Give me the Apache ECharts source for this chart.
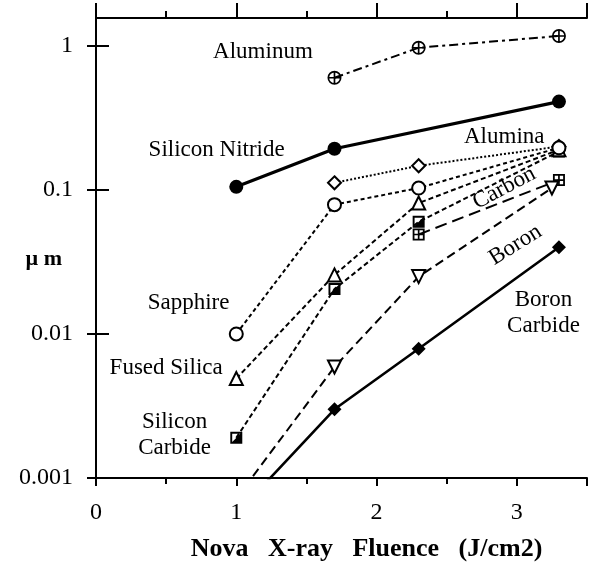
<!DOCTYPE html>
<html>
<head>
<meta charset="utf-8">
<script src="https://cdn.jsdelivr.net/npm/echarts@6/dist/echarts.min.js"></script>
<style>
html,body{margin:0;padding:0;background:#fff;}
#chart{width:604px;height:563px;}
</style>
</head>
<body>
<div id="chart"></div>
<script>
// ---- data: [fluence (J/cm2), thickness removed (um)] ----
const aluminum      = [[1.7, 0.60], [2.3, 0.97], [3.3, 1.17]];
const siliconNitride= [[1.0, 0.105], [1.7, 0.193], [3.3, 0.41]];
const alumina       = [[1.7, 0.112], [2.3, 0.147], [3.3, 0.20]];
const sapphire      = [[1.0, 0.010], [1.7, 0.079], [2.3, 0.103], [3.3, 0.196]];
const fusedSilica   = [[1.0, 0.0049], [1.7, 0.0257], [2.3, 0.081], [3.3, 0.19]];
const siliconCarbide= [[1.0, 0.0019], [1.7, 0.0205], [2.3, 0.060], [3.3, 0.185]];
const carbon        = [[2.3, 0.049], [3.3, 0.117]];
const boron         = [[1.0, 0.00072], [1.7, 0.0059], [2.3, 0.025], [3.25, 0.103]];
const boronCarbide  = [[1.0, 0.00056], [1.7, 0.0030], [2.3, 0.0079], [3.3, 0.040]];

const xTicks = [0, 1, 2, 3];
const yTicks = [0.001, 0.01, 0.1, 1];

// text annotations: [label, x, y, rotation]
const annotations = [
  ['Aluminum', 1.19, 0.91, 0],
  ['Silicon Nitride', 0.86, 0.19, 0],
  ['Alumina', 2.91, 0.233, 0],
  ['Carbon', 2.91, 0.103, 28],
  ['Boron', 2.99, 0.0415, 32],
  ['Boron\nCarbide', 3.19, 0.014, 0],
  ['Sapphire', 0.66, 0.0164, 0],
  ['Fused Silica', 0.50, 0.0058, 0],
  ['Silicon\nCarbide', 0.56, 0.0020, 0]
];

const FONT = 'Liberation Serif';
const SYM_OPLUS = 'path://M0,-10A10,10,0,1,1,0,10A10,10,0,1,1,0,-10Z M0,-7.6A7.6,7.6,0,1,0,0,7.6A7.6,7.6,0,1,0,0,-7.6Z M-7.6,-1.2L7.6,-1.2L7.6,1.2L-7.6,1.2Z M-1.2,-7.6L1.2,-7.6L1.2,7.6L-1.2,7.6Z';
const SYM_HALFSQ = 'path://M0,0L10,0L10,10L0,10Z M1.6,1.6L1.6,8.4L8.4,8.4L8.4,1.6Z M8.4,1.6L8.4,8.4L1.6,8.4Z';
const SYM_GRIDSQ = 'path://M0,0L10,0L10,10L0,10Z M1.5,1.5L1.5,8.5L8.5,8.5L8.5,1.5Z M4.3,1.5L5.7,1.5L5.7,8.5L4.3,8.5Z M1.5,4.3L8.5,4.3L8.5,5.7L1.5,5.7Z';

const openStyle = {color: '#fff', borderColor: '#000', borderWidth: 2};
const filledStyle = {color: '#000', borderWidth: 0};

function lineSeries(name, data, symbol, size, item, width, dash, extra) {
  return Object.assign({
    name: name, type: 'line', data: data, symbol: symbol, symbolSize: size,
    itemStyle: item,
    lineStyle: {color: '#000', width: width, type: dash},
    clip: true, z: 3
  }, extra || {});
}

const series = [
  lineSeries('Aluminum', aluminum, SYM_OPLUS, 14, filledStyle, 2, [9, 4, 3, 4]),
  lineSeries('Silicon Nitride', siliconNitride, 'circle', 14, filledStyle, 3.2, 'solid'),
  lineSeries('Alumina', alumina, 'diamond', 13, openStyle, 2, [2, 2]),
  lineSeries('Silicon Carbide', siliconCarbide, SYM_HALFSQ, 12, filledStyle, 2, [5, 3]),
  lineSeries('Carbon', carbon, SYM_GRIDSQ, 12, filledStyle, 2, [12, 6]),
  lineSeries('Fused Silica', fusedSilica, 'triangle', 13, openStyle, 2, [5, 3]),
  lineSeries('Sapphire', sapphire, 'circle', 13, openStyle, 2, [4, 3]),
  lineSeries('Boron', boron, 'triangle', 13, openStyle, 2, [9, 5], {symbolRotate: 180}),
  lineSeries('Boron Carbide', boronCarbide, 'diamond', 14, filledStyle, 2.6, 'solid'),
  {
    type: 'scatter', symbolSize: 0, z: 5, silent: true,
    itemStyle: {opacity: 1},
    data: annotations.map(a => ({name: a[0], value: [a[1], a[2]], label: {rotate: a[3]}})),
    label: {
      show: true, position: 'inside', formatter: p => p.name,
      fontFamily: FONT, fontSize: 23, color: '#000', opacity: 1, lineHeight: 26, align: 'center',
      textBorderWidth: 0, textShadowBlur: 0
    }
  }
];

const isPow10 = v => Math.abs(Math.log10(v) - Math.round(Math.log10(v))) < 1e-6;

const axisLine = {show: true, lineStyle: {color: '#000', width: 2}};

const option = {
  animation: false,
  backgroundColor: '#fff',
  grid: {left: 96, right: 17, top: 18, bottom: 85, containLabel: false, outerBoundsMode: 'none'},
  xAxis: [
    {
      type: 'value', position: 'bottom', min: 0, max: 3.5, interval: 1,
      axisLine: axisLine,
      axisTick: {show: true, length: 8, lineStyle: {width: 2, color: '#000'}},
      minorTick: {show: true, splitNumber: 2, length: 6, lineStyle: {width: 2, color: '#000'}},
      splitLine: {show: false},
      axisLabel: {
        margin: 23, fontFamily: FONT, fontSize: 24, color: '#000',
        formatter: v => (xTicks.indexOf(v) >= 0 ? String(v) : '')
      },
      name: 'Nova   X-ray   Fluence   (J/cm2)', nameLocation: 'middle', nameGap: 58,
      nameMoveOverlap: false,
      nameTextStyle: {fontFamily: FONT, fontSize: 26, fontWeight: 'bold', color: '#000', padding: [0, 0, 0, 50]}
    },
    {
      type: 'value', position: 'top', min: 0, max: 3.5, interval: 1,
      axisLine: axisLine,
      axisTick: {show: true, length: 15, lineStyle: {width: 2, color: '#000'}},
      minorTick: {show: true, splitNumber: 2, length: 7, lineStyle: {width: 2, color: '#000'}},
      splitLine: {show: false},
      axisLabel: {show: false}
    }
  ],
  yAxis: [
    {
      type: 'log', logBase: 10, position: 'left', min: 0.001, max: 1.56,
      axisLine: axisLine,
      axisTick: {show: true, length: 9, lineStyle: {width: 2, color: '#000'}},
      splitLine: {show: false},
      axisLabel: {
        margin: 23, fontFamily: FONT, fontSize: 24, color: '#000',
        showMaxLabel: false,
        formatter: v => (isPow10(v) && yTicks.some(t => Math.abs(t - v) / t < 1e-6) ? String(+v.toPrecision(3)) : '')
      },
      name: 'µ m', nameLocation: 'middle', nameRotate: 0, nameGap: 34,
      nameMoveOverlap: false,
      nameTextStyle: {fontFamily: FONT, fontSize: 22, fontWeight: 'bold', color: '#000', verticalAlign: 'top'}
    },
    {
      type: 'log', logBase: 10, position: 'right', min: 0.001, max: 1.56,
      axisLine: axisLine,
      axisTick: {show: true, length: 13, lineStyle: {width: 2, color: '#000'}},
      splitLine: {show: false},
      axisLabel: {show: false}
    }
  ],
  series: series
};

const chart = echarts.init(document.getElementById('chart'), null, {renderer: 'canvas'});
chart.setOption(option);
</script>
</body>
</html>
